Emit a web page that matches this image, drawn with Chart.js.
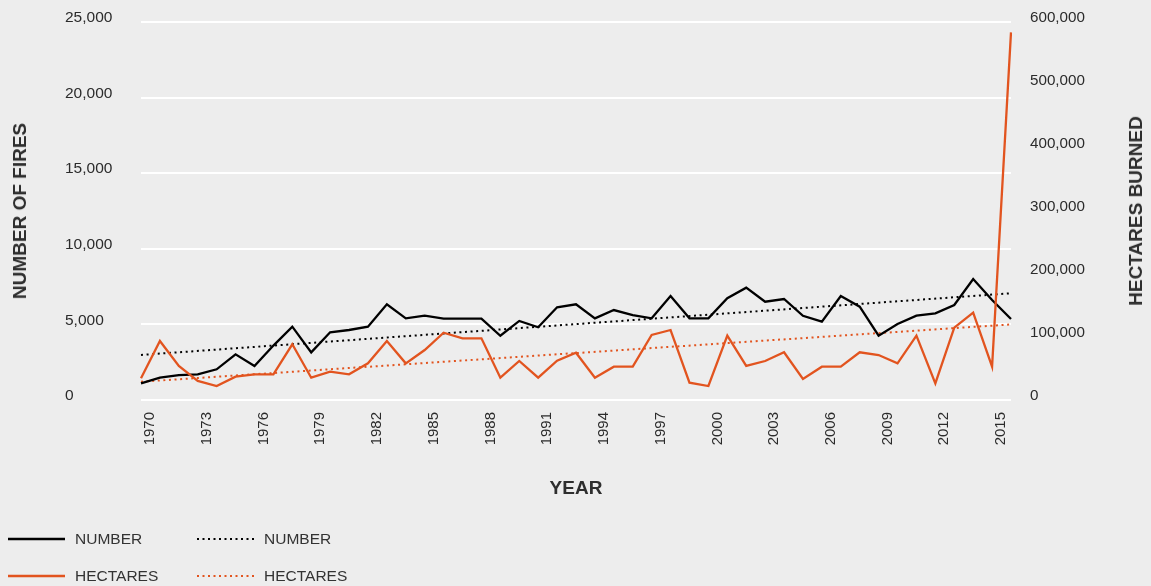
<!DOCTYPE html>
<html>
<head>
<meta charset="utf-8">
<script src="https://cdn.jsdelivr.net/npm/chart.js@4/dist/chart.umd.min.js"></script>
<style>
  html, body { margin:0; padding:0; background:#ededed; }
  #wrap { position:relative; width:1151px; height:586px; background:#ededed; font-family:"Liberation Sans", Arial, sans-serif; color:#2b2b2b; overflow:hidden; }
  #c { position:absolute; left:0; top:0; }
  .title { position:absolute; font-size:19px; font-weight:bold; color:#2e2e2e; white-space:nowrap; }
  .vt { transform:translate(-50%,-50%) rotate(-90deg); }
  .leg { position:absolute; font-size:15.5px; color:#333; white-space:nowrap; }
  svg.ls { position:absolute; }
</style>
</head>
<body>
<div id="wrap">
  <canvas id="c" width="1151" height="586"></canvas>
  <div class="title vt" style="left:20px; top:211px;">NUMBER OF FIRES</div>
  <div class="title vt" style="left:1136px; top:211px;">HECTARES BURNED</div>
  <div class="title" style="left:576px; top:488px; transform:translate(-50%,-50%);">YEAR</div>

  <svg class="ls" style="left:8px; top:533px;" width="60" height="12"><line x1="0" y1="6" x2="57" y2="6" stroke="#000" stroke-width="2.5"/></svg>
  <div class="leg" style="left:75px; top:530px;">NUMBER</div>
  <svg class="ls" style="left:196px; top:533px;" width="64" height="12"><line x1="1" y1="6" x2="61" y2="6" stroke="#000" stroke-width="2" stroke-dasharray="2 3.5"/></svg>
  <div class="leg" style="left:264px; top:530px;">NUMBER</div>

  <svg class="ls" style="left:8px; top:570px;" width="60" height="12"><line x1="0" y1="6" x2="57" y2="6" stroke="#e2541f" stroke-width="2.5"/></svg>
  <div class="leg" style="left:75px; top:567px;">HECTARES</div>
  <svg class="ls" style="left:196px; top:570px;" width="64" height="12"><line x1="1" y1="6" x2="61" y2="6" stroke="#e2541f" stroke-width="2" stroke-dasharray="2 3.5"/></svg>
  <div class="leg" style="left:264px; top:567px;">HECTARES</div>
</div>
<script>
const years = [1970,1971,1972,1973,1974,1975,1976,1977,1978,1979,1980,1981,1982,1983,1984,1985,1986,1987,1988,1989,1990,1991,1992,1993,1994,1995,1996,1997,1998,1999,2000,2001,2002,2003,2004,2005,2006,2007,2008,2009,2010,2011,2012,2013,2014,2015,2016];
const numberOfFires = [1100,1480,1650,1700,2030,3020,2250,3600,4850,3150,4480,4630,4850,6330,5400,5580,5380,5380,5380,4250,5230,4810,6130,6330,5400,5950,5620,5400,6880,5400,5400,6730,7430,6500,6680,5570,5180,6880,6170,4250,5030,5580,5730,6280,8000,6610,5360];
const hectaresBurned = [34400,93700,54000,30200,22200,37000,40800,40800,88400,35400,45000,40800,58200,93700,58200,79400,106800,97900,97900,35400,61900,35400,62400,75100,35400,52900,52900,103200,111100,27500,22200,102100,54000,61900,75700,33300,52900,52900,75700,71400,58200,102100,26500,114800,138600,52900,583600];
const fireTrendEnds = [2980, 7060];
const hectareTrendEnds = [29000, 120000];
const fireTicks = [0,5000,10000,15000,20000,25000];
const hectareTicks = [0,100000,200000,300000,400000,500000,600000];
const yearLabelStep = 3;

const BLACK = '#000000';
const RED = '#e2541f';
const labels = years.map(String);
const fmt = v => v.toLocaleString('en-US');
const FONT = '"Liberation Sans", Arial, sans-serif';
const noPad = (s)=>{ s.paddingTop = 0; s.paddingBottom = 0; };

new Chart(document.getElementById('c'), {
  type: 'line',
  data: {
    labels: labels,
    datasets: [
      { label:'HECTARES', data: hectaresBurned, yAxisID:'y2', borderColor:RED, borderWidth:2.3, pointRadius:0, tension:0, order:1 },
      { label:'NUMBER', data: numberOfFires, yAxisID:'y', borderColor:BLACK, borderWidth:2.3, pointRadius:0, tension:0, order:2 },
      { label:'HECTARES trend', data: [{x:labels[0], y:hectareTrendEnds[0]},{x:labels[labels.length-1], y:hectareTrendEnds[1]}], yAxisID:'y2', borderColor:RED, borderWidth:2, borderDash:[2,3.6], borderCapStyle:'butt', pointRadius:0, order:3 },
      { label:'NUMBER trend', data: [{x:labels[0], y:fireTrendEnds[0]},{x:labels[labels.length-1], y:fireTrendEnds[1]}], yAxisID:'y', borderColor:BLACK, borderWidth:2, borderDash:[2,3.6], borderCapStyle:'butt', pointRadius:0, order:4 }
    ]
  },
  options: {
    responsive:false,
    animation:false,
    events:[],
    layout:{ padding:{ left:65, right:0, top:22, bottom:0 } },
    plugins:{ legend:{display:false}, tooltip:{enabled:false} },
    scales:{
      x:{
        type:'category',
        offset:false,
        grid:{ display:false, drawTicks:false },
        border:{ display:false },
        ticks:{
          autoSkip:false, minRotation:90, maxRotation:90, padding:12, labelOffset:9,
          color:'#2b2b2b', font:{ family:FONT, size:15 },
          callback:(v,i)=> (i % yearLabelStep === 0 && i < 46) ? labels[i] : ''
        },
        afterFit:(s)=>{ s.height = 186; }
      },
      y:{
        position:'left', min:0, max:25000,
        afterBuildTicks:(s)=>{ s.ticks = fireTicks.map(v=>({value:v})); },
        grid:{ color:'#ffffff', lineWidth:2, drawTicks:false },
        border:{ display:false },
        ticks:{ crossAlign:'far', padding:0, labelOffset:-4, color:'#2b2b2b', font:{ family:FONT, size:15.5 }, callback:v=>fmt(v) },
        afterFit:(s)=>{ s.width = 76; noPad(s); }
      },
      y2:{
        position:'right', min:0, max:600000,
        afterBuildTicks:(s)=>{ s.ticks = hectareTicks.map(v=>({value:v})); },
        grid:{ display:false, drawTicks:false },
        border:{ display:false },
        ticks:{ padding:19, labelOffset:-4, color:'#2b2b2b', font:{ family:FONT, size:15.2 }, callback:v=>fmt(v) },
        afterFit:(s)=>{ s.width = 140; noPad(s); }
      }
    }
  }
});
</script>
</body>
</html>
